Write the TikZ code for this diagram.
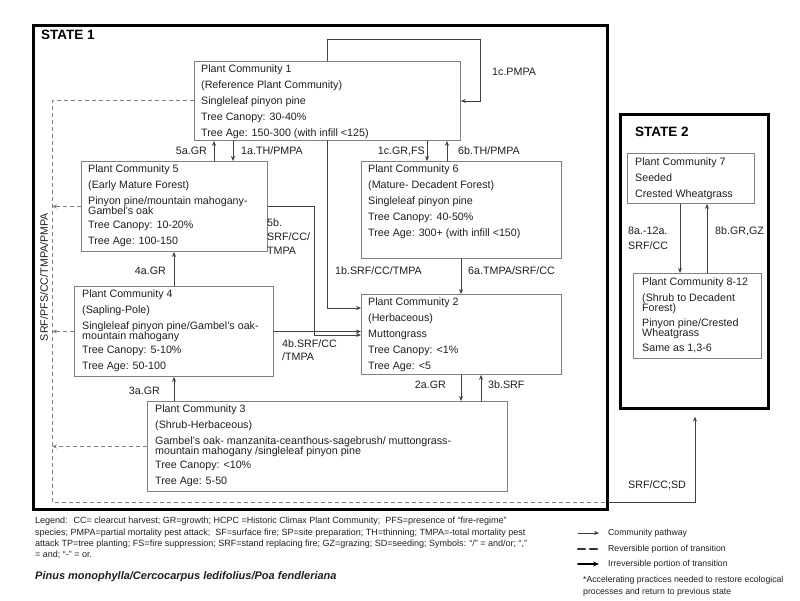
\documentclass[tikz,border=0pt]{standalone}
\usepackage{fontspec}
\setmainfont{Liberation Sans}
\usepackage{tikz}
\usetikzlibrary{arrows.meta, calc}
\definecolor{boxGray}{gray}{0.5}
\definecolor{lineGray}{gray}{0.25}
\definecolor{textGray}{gray}{0.12}

\begin{document}
\begin{tikzpicture}[x=1pt, y=-1pt, line cap=round,
  statebox/.style={draw=black, line width=2.6pt, inner sep=0pt, anchor=north west},
  pcbox/.style={draw=boxGray, line width=0.9pt, inner sep=0pt, anchor=north west},
  pctext/.style={anchor=north west, inner sep=0pt, align=left, text=textGray, font=\fontsize{10.7}{16}\selectfont},
  lbl/.style={inner sep=0pt, align=left, text=textGray, font=\fontsize{10.7}{14}\selectfont},
  legtext/.style={inner sep=0pt, align=left, text=textGray, font=\fontsize{9}{11.3}\selectfont},
  keytext/.style={inner sep=0pt, align=left, text=textGray, font=\fontsize{8.7}{12}\selectfont},
  flow/.style={draw=lineGray, line width=0.8pt, ->, >={Stealth[length=5pt, width=4pt]}},
  trans/.style={draw=boxGray, line width=1pt, dash pattern=on 4pt off 3pt, line cap=butt},
  ]
  \useasboundingbox (0,0) rectangle (800,600);

  % states
  \node[statebox, minimum width=574, minimum height=484] (state1) at (32,24) {};
  \node[statebox, minimum width=148, minimum height=294] (state2) at (619,113) {};
  \node[anchor=west, inner sep=0pt, font=\bfseries\fontsize{13.5}{16}\selectfont] (s1lbl) at (41,35) {STATE 1};
  \node[anchor=west, inner sep=0pt, font=\bfseries\fontsize{13.5}{16}\selectfont] (s2lbl) at (635,132) {STATE 2};

  % plant communities
  \node[pcbox, minimum width=266, minimum height=79] (pc1) at (194,61) {};
  \node[pctext] (pc1t) at ([shift={(7,0)}]pc1.north west) {\strut Plant Community 1\\ (Reference Plant Community)\\ Singleleaf pinyon pine\\ Tree Canopy: 30-40\%\\ Tree Age: 150-300 (with infill <125)};

  \node[pcbox, minimum width=186, minimum height=90] (pc5) at (81,161) {};
  \node[pctext] (pc5t) at ([shift={(7,0)}]pc5.north west) {\strut Plant Community 5\\ (Early Mature Forest)\\ Pinyon pine/mountain mahogany-\\[-6pt] Gambel's oak\\[-2pt] Tree Canopy: 10-20\%\\ Tree Age: 100-150};

  \node[pcbox, minimum width=200, minimum height=97] (pc6) at (361,161) {};
  \node[pctext] (pc6t) at ([shift={(7,0)}]pc6.north west) {\strut Plant Community 6\\ (Mature- Decadent Forest)\\ Singleleaf pinyon pine\\ Tree Canopy: 40-50\%\\ Tree Age: 300+ (with infill <150)};

  \node[pcbox, minimum width=199, minimum height=90] (pc4) at (74,286) {};
  \node[pctext] (pc4t) at ([shift={(8,0)}]pc4.north west) {\strut Plant Community 4\\ (Sapling-Pole)\\ Singleleaf pinyon pine/Gambel's oak-\\[-6pt] mountain mahogany\\[-2pt] Tree Canopy: 5-10\%\\ Tree Age: 50-100};

  \node[pcbox, minimum width=200, minimum height=80] (pc2) at (361,294) {};
  \node[pctext] (pc2t) at ([shift={(7,0)}]pc2.north west) {\strut Plant Community 2\\ (Herbaceous)\\ Muttongrass\\ Tree Canopy: <1\%\\ Tree Age: <5};

  \node[pcbox, minimum width=360, minimum height=90] (pc3) at (147,401) {};
  \node[pctext] (pc3t) at ([shift={(8,0)}]pc3.north west) {\strut Plant Community 3\\ (Shrub-Herbaceous)\\ Gambel's oak- manzanita-ceanthous-sagebrush/ muttongrass-\\[-6pt] mountain mahogany /singleleaf pinyon pine\\[-2pt] Tree Canopy: <10\%\\ Tree Age: 5-50};

  \node[pcbox, minimum width=127, minimum height=50] (pc7) at (627,153) {};
  \node[pctext] (pc7t) at ([shift={(8,1)}]pc7.north west) {\strut Plant Community 7\\ Seeded\\ Crested Wheatgrass};

  \node[pcbox, minimum width=128, minimum height=85] (pc8) at (633,273) {};
  \node[pctext] (pc8t) at ([shift={(9,1)}]pc8.north west) {\strut Plant Community 8-12\\ (Shrub to Decadent\\[-6pt] Forest)\\[-1pt] Pinyon pine/Crested\\[-6pt] Wheatgrass\\[-1pt] Same as 1,3-6};

  % columns and corners of the pathways
  \coordinate (x4a) at (174,0);
  \coordinate (x5a) at (214,0);
  \coordinate (x1a) at (233,0);
  \coordinate (x1c) at (427,0);
  \coordinate (x6b) at (447,0);
  \coordinate (x6a) at (461,0);
  \coordinate (x3b) at (481,0);
  \coordinate (x8a) at (680,0);
  \coordinate (x8b) at (707,0);
  \coordinate (xsd) at (695,0);
  \coordinate (k1c) at (480,39);
  \coordinate (k1b) at (327,308);
  \coordinate (k5b) at (314,335);
  \coordinate (dl) at (52,502);

  % community pathways
  \draw[flow] (pc1.north -| k1b) |- (k1c) |- (pc1.east);
  \draw[flow] (x5a |- pc5.north) -- (x5a |- pc1.south);
  \draw[flow] (x1a |- pc1.south) -- (x1a |- pc5.north);
  \draw[flow] (x1c |- pc1.south) -- (x1c |- pc6.north);
  \draw[flow] (x6b |- pc6.north) -- (x6b |- pc1.south);
  \draw[flow] (pc1.south -| k1b) -- (k1b) -- (pc2.west |- k1b);
  \draw[flow] (pc5.east) -| (k5b) -- (pc2.west |- k5b);
  \draw[flow] (pc4.east) -- (pc4.east -| pc2.west);
  \draw[flow] (x6a |- pc6.south) -- (x6a |- pc2.north);
  \draw[flow] (x4a |- pc4.north) -- (x4a |- pc5.south);
  \draw[flow] (x4a |- pc3.north) -- (x4a |- pc4.south);
  \draw[flow] (x6a |- pc2.south) -- (x6a |- pc3.north);
  \draw[flow] (x3b |- pc3.north) -- (x3b |- pc2.south);
  \draw[flow] (x8a |- pc7.south) -- (x8a |- pc8.north);
  \draw[flow] (x8b |- pc8.north) -- (x8b |- pc7.south);

  % transitions
  \draw[trans] (pc1.west) -- (pc1.west -| dl) -- (dl) -- (dl -| state1.east);
  \draw[trans, ->, >={Stealth[length=5pt, width=4pt]}] (pc5.west) -- (pc5.west -| dl);
  \draw[trans, ->, >={Stealth[length=5pt, width=4pt]}] (pc4.west) -- (pc4.west -| dl);
  \draw[trans, ->, >={Stealth[length=5pt, width=4pt]}] (pc3.west) -- (pc3.west -| dl);
  \draw[flow, shorten >=7pt] (dl -| state1.east) -| (xsd |- state2.south);

  % pathway labels
  \node[lbl, anchor=west] (l1cp) at (492,72) {1c.PMPA};
  \node[lbl, anchor=east] (l5a) at (207,151) {5a.GR};
  \node[lbl, anchor=west] (l1a) at (241,151) {1a.TH/PMPA};
  \node[lbl, anchor=east] (l1cg) at (425,151) {1c.GR,FS};
  \node[lbl, anchor=west] (l6b) at (458,151) {6b.TH/PMPA};
  \node[lbl, anchor=north west] (l5b) at (267,219) {5b.\\ SRF/CC/\\ TMPA};
  \node[lbl, anchor=east] (l4a) at (166,271) {4a.GR};
  \node[lbl, anchor=west] (l1b) at (335,271) {1b.SRF/CC/TMPA};
  \node[lbl, anchor=west] (l6a) at (468,271) {6a.TMPA/SRF/CC};
  \node[lbl, anchor=north west, font=\fontsize{10.7}{13}\selectfont] (l4b) at (282,340) {4b.SRF/CC\\ /TMPA};
  \node[lbl, anchor=east] (l3a) at (160,391) {3a.GR};
  \node[lbl, anchor=east] (l2a) at (446,385) {2a.GR};
  \node[lbl, anchor=west] (l3b) at (488,385) {3b.SRF};
  \node[lbl, anchor=north west, font=\fontsize{10.7}{15}\selectfont] (l8a) at (628,227) {8a.-12a.\\ SRF/CC};
  \node[lbl, anchor=west] (l8b) at (715,231) {8b.GR,GZ};
  \node[lbl, anchor=west] (lsd) at (628,485) {SRF/CC;SD};
  \node[lbl, rotate=90] (lpfs) at (44,277) {SRF/PFS/CC/TMPA/PMPA};

  % legend
  \node[legtext, anchor=north west] (leg) at (35,517) {Legend:~ CC= clearcut harvest; GR=growth; HCPC =Historic Climax Plant Community;~ PFS=presence of “fire-regime”\\ species; PMPA=partial mortality pest attack;~ SF=surface fire; SP=site preparation; TH=thinning; TMPA=-total mortality pest\\ attack TP=tree planting; FS=fire suppression; SRF=stand replacing fire; GZ=grazing; SD=seeding; Symbols: “/” = and/or; “,”\\ = and; “-” = or.};
  \node[anchor=west, inner sep=0pt, text=textGray, font=\bfseries\itshape\fontsize{11}{13}\selectfont] (pinus) at (35,577) {Pinus monophylla/Cercocarpus ledifolius/Poa fendleriana};

  \node[keytext, anchor=west] (lgp) at (608,533) {Community pathway};
  \node[keytext, anchor=west] (lgr) at (608,549) {Reversible portion of transition};
  \node[keytext, anchor=west] (lgi) at (608,564) {Irreversible portion of transition};
  \node[keytext, anchor=north west] (lacc) at (583,576) {*Accelerating practices needed to restore ecological\\ processes and return to previous state};
  \coordinate (kp) at (578,533);
  \coordinate (kr) at (578,549);
  \coordinate (ki) at (578,564);
  \draw[flow] (kp) -- ([shift={(-9,0)}]lgp.west);
  \draw[draw=black!80, line width=2.4pt, dash pattern=on 7pt off 5pt] (kr) -- ([shift={(-9,0)}]lgr.west);
  \draw[flow, draw=black, line width=2pt, >={Stealth[length=6pt, width=5pt]}] (ki) -- ([shift={(-9,0)}]lgi.west);
\end{tikzpicture}
\end{document}
